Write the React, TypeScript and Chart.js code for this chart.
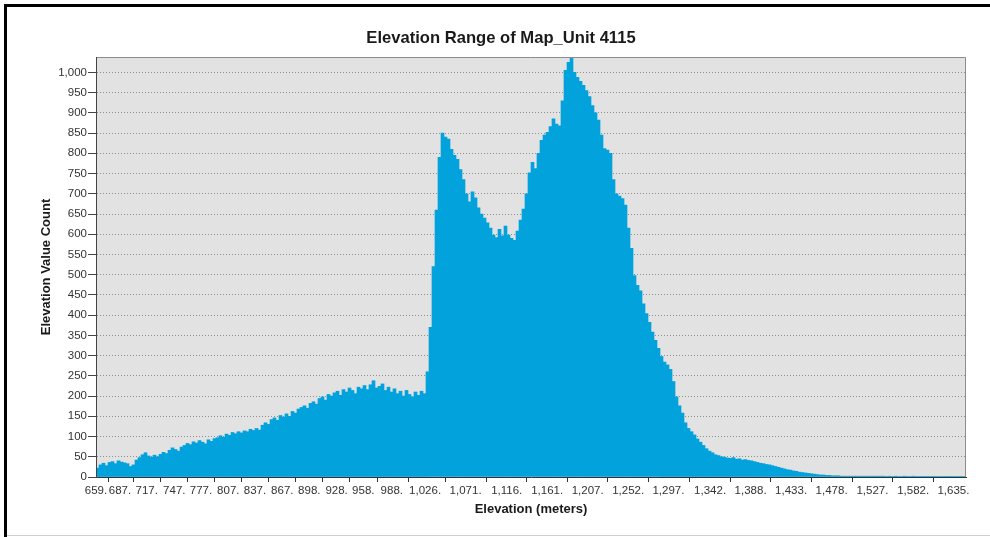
import React, { useEffect, useRef } from "react";
import { Chart, registerables } from "chart.js";

Chart.register(...registerables);

const CHART_TITLE = "Elevation Range of Map_Unit 4115";
const X_TITLE = "Elevation (meters)";
const Y_TITLE = "Elevation Value Count";

// Tick labels shown along the elevation axis, and the histogram bin each sits on
const xTickLabels = [
  "659.", "687.", "717.", "747.", "777.", "807.", "837.", "867.", "898.", "928.",
  "958.", "988.", "1,026.", "1,071.", "1,116.", "1,161.", "1,207.", "1,252.", "1,297.", "1,342.",
  "1,388.", "1,433.", "1,478.", "1,527.", "1,582.", "1,635.",
];
const xTickBins = [
  0, 8.0, 16.9, 26.1, 35.0, 44.1, 53.0, 62.1, 71.1, 80.2,
  89.1, 98.6, 109.7, 123.2, 136.9, 150.4, 163.9, 177.4, 190.8, 204.7,
  218.2, 231.7, 245.2, 258.8, 272.4, 285.8,
];

const yMax = 1038;
const yStep = 50;

// Histogram counts (left to right)
const binCounts = [
  22, 30, 34, 28, 36, 38, 33, 40, 37, 35,
  33, 26, 30, 42, 48, 55, 60, 52, 49, 54,
  50, 56, 61, 58, 66, 72, 68, 64, 74, 78,
  83, 80, 87, 84, 90, 86, 82, 92, 88, 95,
  97, 102, 98, 106, 103, 110, 107, 112, 109, 114,
  112, 118, 115, 120, 116, 128, 134, 130, 142, 146,
  140, 152, 148, 156, 150, 162, 158, 168, 172, 176,
  170, 182, 186, 180, 194, 198, 190, 204, 200, 208,
  212, 202, 216, 210, 220, 214, 206, 222, 218, 226,
  216, 228, 238, 220, 224, 230, 214, 222, 210, 218,
  206, 212, 200, 214, 204, 198, 210, 202, 212, 206,
  260, 370, 520, 660, 790, 850, 840, 835, 810, 795,
  785, 760, 735, 700, 680, 705, 690, 665, 650, 640,
  628, 615, 598, 592, 612, 596, 620, 598, 590, 585,
  608, 635, 662, 700, 752, 778, 762, 800, 832, 845,
  852, 866, 885, 872, 868, 930, 1005, 1025, 1040, 1000,
  988, 978, 968, 955, 940, 918, 900, 882, 845, 812,
  808, 800, 735, 700, 694, 688, 672, 615, 565, 498,
  474, 460, 428, 404, 382, 358, 338, 318, 298, 284,
  277, 266, 236, 198, 176, 158, 134, 120, 112, 104,
  94, 86, 78, 70, 64, 60, 55, 53, 50, 49,
  47, 46, 48, 44, 45, 42, 43, 41, 40, 38,
  36, 34, 33, 31, 30, 28, 26, 24, 22, 20,
  18, 17, 15, 14, 12, 11, 10, 9, 8, 7,
  6, 5, 5, 4, 4, 3, 3, 3, 2, 2,
  2, 2, 2, 2, 2, 2, 2, 2, 2, 2,
  2, 2, 2, 1, 2, 1, 2, 1, 1, 2,
  1, 1, 2, 1, 1, 1, 1, 1, 1, 1,
  1, 1, 1, 1, 1, 1, 1, 1, 1, 1,
];

const FONT = "'Liberation Sans', Arial, Helvetica, sans-serif";
const BAR_COLOR = "#02a2dc";
const PLOT_BG = "#e2e2e2";

const plotFrame = {
  id: "plotFrame",
  beforeDraw(chart: any) {
    const { ctx, chartArea } = chart;
    const { left, top, width, height } = chartArea;
    ctx.save();
    ctx.fillStyle = PLOT_BG;
    ctx.fillRect(left, top, width, height);
    ctx.restore();
  },
  afterDatasetsDraw(chart: any) {
    const { ctx, chartArea } = chart;
    const { left, top, right, bottom } = chartArea;
    ctx.save();
    ctx.strokeStyle = "#8c8c8c";
    ctx.lineWidth = 1;
    ctx.beginPath();
    ctx.moveTo(left, top + 0.5);
    ctx.lineTo(right - 0.5, top + 0.5);
    ctx.lineTo(right - 0.5, bottom);
    ctx.stroke();
    ctx.restore();
  },
};

export default function App() {
  const canvasRef = useRef<HTMLCanvasElement | null>(null);

  useEffect(() => {
    if (!canvasRef.current) return;
    const points = binCounts.map((v, i) => ({ x: i + 0.5, y: v }));
    const chart = new Chart(canvasRef.current, {
      type: "bar",
      data: {
        datasets: [
          {
            data: points as any,
            backgroundColor: BAR_COLOR,
            borderWidth: 0,
            barPercentage: 1,
            categoryPercentage: 1,
          },
        ],
      },
      plugins: [plotFrame],
      options: {
        animation: false,
        responsive: false,
        devicePixelRatio: 1,
        layout: { padding: { left: 36, right: 24, top: 0, bottom: 0 } },
        plugins: {
          legend: { display: false },
          tooltip: { enabled: false },
          title: {
            display: true,
            text: CHART_TITLE,
            color: "#1a1a1a",
            font: { family: FONT, size: 16.6, weight: "bold" },
            padding: { top: 28.6, bottom: 8.5 },
          },
        },
        scales: {
          x: {
            type: "linear",
            min: 0,
            max: binCounts.length,
            offset: false,
            afterFit: (scale: any) => {
              scale.height = 60;
            },
            afterBuildTicks: (scale: any) => {
              scale.ticks = xTickBins.map((v) => ({ value: v }));
            },
            grid: {
              display: true,
              drawOnChartArea: false,
              drawTicks: true,
              tickLength: 5,
              tickColor: "#333",
              tickWidth: 1,
            },
            border: { display: true, color: "#333", width: 1, z: 1 },
            ticks: {
              autoSkip: false,
              maxRotation: 0,
              minRotation: 0,
              padding: 2,
              color: "#333",
              font: { family: FONT, size: 11.5 },
              callback: (_v: any, i: number) => xTickLabels[i],
            },
            title: {
              display: true,
              text: X_TITLE,
              color: "#1a1a1a",
              font: { family: FONT, size: 13, weight: "bold" },
              padding: { top: 0, bottom: 20 },
            },
          },
          y: {
            type: "linear",
            min: 0,
            max: yMax,
            afterFit: (scale: any) => {
              scale.width = 60;
            },
            afterBuildTicks: (scale: any) => {
              scale.ticks = scale.ticks.filter((t: any) => t.value % yStep === 0);
            },
            grid: {
              color: "#8f8f8f",
              lineWidth: 1,
              drawTicks: true,
              tickLength: 8,
              tickColor: "#444",
              tickWidth: 1,
              tickBorderDash: [],
            },
            border: { display: true, color: "#444", width: 1, dash: [1, 2], z: 1 },
            ticks: {
              stepSize: yStep,
              padding: 1,
              color: "#333",
              font: { family: FONT, size: 11.5 },
              callback: (v: any) => Number(v).toLocaleString("en-US"),
            },
            title: {
              display: true,
              text: Y_TITLE,
              color: "#1a1a1a",
              font: { family: FONT, size: 13, weight: "bold" },
              padding: { top: 3, bottom: 0 },
            },
          },
        },
      },
    });
    return () => chart.destroy();
  }, []);

  return (
    <div
      style={{
        position: "fixed",
        left: 0,
        top: 0,
        width: 990,
        height: 537,
        background: "#ffffff",
        overflow: "hidden",
      }}
    >
      <canvas
        ref={canvasRef}
        width={990}
        height={537}
        style={{ position: "absolute", left: 0, top: 0, width: 990, height: 537 }}
      />
      <div style={{ position: "absolute", left: 4, top: 4, width: 986, height: 3, background: "#000" }} />
      <div style={{ position: "absolute", left: 4, top: 4, width: 3, height: 533, background: "#000" }} />
      <div style={{ position: "absolute", left: 7, top: 535, width: 983, height: 1, background: "#cfcfcf" }} />
    </div>
  );
}
